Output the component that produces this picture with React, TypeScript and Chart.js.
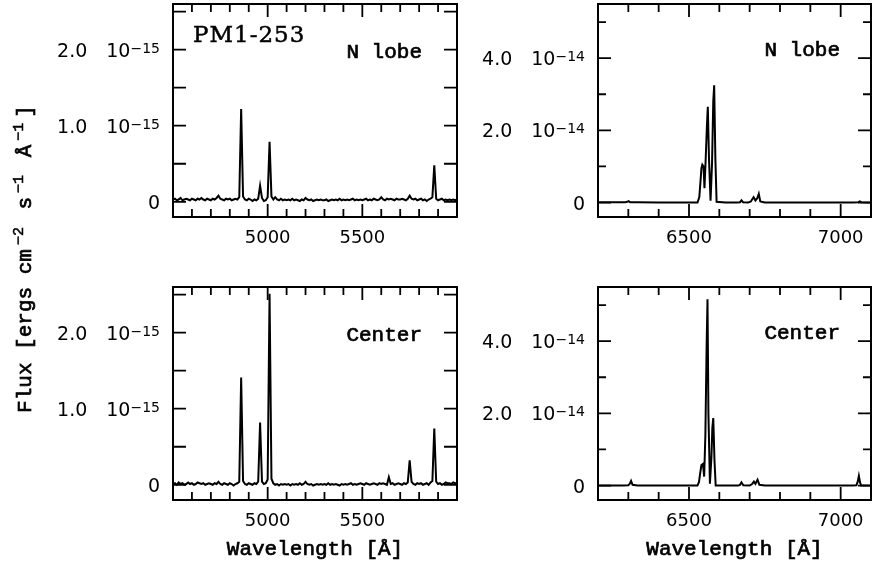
import React, { useEffect, useRef } from "react";
import { Chart, registerables } from "chart.js";

Chart.register(...registerables);

const W = 882;
const H = 565;

// ---------------- data ----------------
// Blue range: one flux value every 10 Å starting at 4500 Å, flux in units of 1e-15 erg cm-2 s-1 Å-1
const blueStart = 4500;
const blueStep = 10;
const blueNLobe = [
  0.03, 0.04, 0.02, 0.03, 0.05, 0.02, 0.03, 0.04, 0.03, 0.02,
  0.04, 0.03, 0.02, 0.04, 0.03, 0.05, 0.03, 0.02, 0.04, 0.03,
  0.02, 0.04, 0.03, 0.05, 0.08, 0.04, 0.03, 0.02, 0.04, 0.03,
  0.04, 0.02, 0.03, 0.04, 0.03, 0.06, 1.22, 0.07, 0.03, 0.02,
  0.04, 0.03, 0.01, 0.03, 0.02, 0.04, 0.21, 0.05, 0.01, 0.02,
  0.06, 0.79, 0.07, 0.03, 0.06, 0.03, 0.02, 0.04, 0.02, 0.03,
  0.02, 0.03, 0.02, 0.04, 0.02, 0.03, 0.02, 0.01, 0.03, 0.02,
  0.05, 0.03, 0.02, 0.03, 0.01, 0.02, 0.03, 0.02, 0.03, 0.02,
  0.02, 0.03, 0.01, 0.02, 0.03, 0.02, 0.03, 0.02, 0.04, 0.02,
  0.03, 0.02, 0.03, 0.02, 0.03, 0.04, 0.02, 0.03, 0.02, 0.03,
  0.02, 0.03, 0.04, 0.02, 0.03, 0.02, 0.04, 0.03, 0.02, 0.03,
  0.06, 0.03, 0.02, 0.04, 0.03, 0.04, 0.03, 0.02, 0.04, 0.03,
  0.03, 0.04, 0.03, 0.02, 0.04, 0.08, 0.04, 0.03, 0.04, 0.02,
  0.03, 0.04, 0.02, 0.03, 0.01, 0.03, 0.04, 0.06, 0.48, 0.04,
  0.02, 0.03, 0.04, 0.02, 0.03, 0.02, 0.03, 0.02, 0.03, 0.02,
  0.03,
];
const blueCenter = [
  0.01, 0.02, 0.00, 0.03, 0.01, 0.02, 0.00, 0.01, 0.03, 0.01,
  0.02, 0.00, 0.01, 0.03, 0.02, 0.01, 0.02, 0.00, 0.01, 0.02,
  0.01, 0.00, 0.02, 0.01, 0.04, 0.01, 0.00, 0.02, 0.01, 0.00,
  0.02, 0.01, -0.01, 0.01, 0.02, 0.04, 1.41, 0.05, 0.01, 0.00,
  0.02, 0.01, 0.00, 0.02, 0.01, 0.04, 0.82, 0.04, 0.01, 0.02,
  0.07, 2.51, 0.08, 0.02, 0.00, 0.01, -0.01, 0.01, 0.00, 0.01,
  0.00, 0.01, -0.01, 0.01, 0.00, 0.01, 0.00, 0.02, 0.00, 0.01,
  0.04, 0.01, 0.00, 0.01, -0.01, 0.00, 0.01, 0.00, 0.01, 0.00,
  0.01, 0.00, 0.02, 0.00, 0.01, 0.00, 0.01, 0.00, -0.01, 0.01,
  0.00, 0.01, 0.00, 0.01, 0.02, 0.00, 0.01, 0.00, 0.01, 0.02,
  0.01, 0.00, 0.02, 0.01, 0.00, 0.01, 0.02, 0.01, 0.00, 0.02,
  0.01, 0.02, 0.01, 0.00, 0.10, 0.01, 0.02, 0.00, 0.01, 0.02,
  0.01, 0.00, 0.02, 0.01, 0.03, 0.32, 0.04, 0.01, 0.00, 0.02,
  0.01, 0.02, 0.00, 0.01, 0.02, 0.00, 0.03, 0.05, 0.74, 0.04,
  0.01, 0.02, 0.00, 0.01, 0.03, 0.02, 0.02, 0.01, 0.03, 0.02,
  0.02,
];

// Red range: wavelengths (Å) and flux in units of 1e-14 erg cm-2 s-1 Å-1
const redNLobeWave = [
  6200, 6260, 6290, 6296, 6301, 6306, 6330, 6400, 6480, 6528,
  6534, 6538, 6541, 6544, 6548, 6551, 6555, 6559, 6562, 6566,
  6571, 6576, 6580, 6583, 6587, 6591, 6620, 6660, 6668, 6673,
  6678, 6695, 6704, 6709, 6713, 6719, 6725, 6730, 6735, 6750,
  6850, 6950, 7040, 7058, 7063, 7068, 7100,
];
const redNLobeFlux = [
  0.01, 0.01, 0.01, 0.02, 0.04, 0.01, 0.01, 0.00, 0.00, 0.00,
  0.15, 0.60, 0.95, 1.05, 1.00, 0.40, 1.20, 2.10, 2.65, 1.20,
  0.05, 1.10, 2.80, 3.25, 1.20, 0.02, 0.00, 0.00, 0.01, 0.06,
  0.01, 0.00, 0.03, 0.10, 0.15, 0.06, 0.12, 0.24, 0.03, 0.00,
  0.00, 0.00, 0.00, 0.01, 0.03, 0.01, 0.00,
];
const redCenterWave = [
  6200, 6280, 6300, 6305, 6309, 6314, 6330, 6420, 6500, 6528,
  6533, 6537, 6541, 6546, 6550, 6554, 6558, 6561, 6564, 6569,
  6574, 6577, 6580, 6584, 6588, 6620, 6662, 6668, 6673, 6679,
  6700, 6708, 6714, 6719, 6726, 6732, 6750, 6900, 7040, 7052,
  7056, 7060, 7064, 7068, 7100,
];
const redCenterFlux = [
  0.00, 0.00, 0.01, 0.05, 0.13, 0.02, 0.00, 0.00, 0.00, 0.00,
  0.10, 0.35, 0.57, 0.60, 0.25, 1.40, 3.80, 5.16, 2.00, 0.05,
  0.80, 1.60, 1.87, 0.70, 0.00, 0.00, 0.00, 0.02, 0.09, 0.01,
  0.00, 0.04, 0.11, 0.05, 0.16, 0.02, 0.00, 0.00, 0.00, 0.01,
  0.10, 0.27, 0.08, 0.00, 0.00,
];

// tick labels
const blueXLabels = [5000, 5500];
const redXLabels = [6500, 7000];
const blueYLabels = [0, 1, 2];
const redYLabels = [0, 2, 4];
const blueExponent = "\u221215";
const redExponent = "\u221214";

// texts
const objectName = "PM1-253";
const regionNames = ["N lobe", "Center"];
const xTitle = "Wavelength [\u00C5]";
const yTitleParts: [string, boolean][] = [
  ["Flux [ergs cm", false],
  ["\u22122", true],
  [" s", false],
  ["\u22121", true],
  [" \u00C5", false],
  ["\u22121", true],
  ["]", false],
];

// ---------------- chart building ----------------
type Spec = {
  xs: number[];
  ys: number[];
  xMin: number;
  xMax: number;
  yMin: number;
  yMax: number;
  yStep: number;
  xLabels: number[];
  yLabels: number[];
  exponent: string;
  area: { l: number; r: number; t: number; b: number };
  padLeft: number;
  name: string;
  showObject: boolean;
  showXTitle: boolean;
  showYTitle: boolean;
  yMinorLen: number;
  nameInset: number;
  nameDrop: number;
};

const TICK_FONT = '"DejaVu Sans", Arial, sans-serif';
const MONO_FONT = '"Liberation Mono", "DejaVu Sans Mono", monospace';

// fill text and thicken it slightly with a thin outline
function heavyText(ctx: CanvasRenderingContext2D, txt: string, x: number, y: number, w = 0.7) {
  ctx.fillText(txt, x, y);
  ctx.lineWidth = w;
  ctx.strokeText(txt, x, y);
}

function decorPlugin(s: Spec) {
  return {
    id: "decor",
    afterDraw(chart: any) {
      const { ctx, chartArea: a } = chart;
      const xs = chart.scales.x;
      const ys = chart.scales.y;
      ctx.save();
      ctx.strokeStyle = "#000";
      ctx.fillStyle = "#000";
      // inward ticks on all four sides
      ctx.lineWidth = 1.8;
      ctx.beginPath();
      for (const t of xs.ticks) {
        const px = xs.getPixelForValue(t.value);
        const len = t.value % 500 === 0 ? 13 : 8;
        ctx.moveTo(px, a.bottom);
        ctx.lineTo(px, a.bottom - len);
        ctx.moveTo(px, a.top);
        ctx.lineTo(px, a.top + len);
      }
      for (const t of ys.ticks) {
        const py = ys.getPixelForValue(t.value);
        const len = s.yLabels.includes(t.value) ? 13 : s.yMinorLen;
        ctx.moveTo(a.left, py);
        ctx.lineTo(a.left + len, py);
        ctx.moveTo(a.right, py);
        ctx.lineTo(a.right - len, py);
      }
      ctx.stroke();
      ctx.lineWidth = 2;
      ctx.strokeRect(a.left, a.top, a.right - a.left, a.bottom - a.top);

      // y tick labels "2.0 10^-15"
      ctx.textAlign = "left";
      ctx.textBaseline = "alphabetic";
      const R = a.left - 13;
      for (const t of ys.ticks) {
        if (!s.yLabels.includes(t.value)) continue;
        const py = ys.getPixelForValue(t.value);
        ctx.font = `19px ${TICK_FONT}`;
        if (t.value === 0) {
          const w0 = ctx.measureText("0").width;
          ctx.fillText("0", R - w0, py + 7);
          continue;
        }
        ctx.font = `14px ${TICK_FONT}`;
        const supW = ctx.measureText(s.exponent).width;
        ctx.fillText(s.exponent, R - supW, py + 3);
        ctx.font = `19px ${TICK_FONT}`;
        const tenW = ctx.measureText("10").width;
        ctx.fillText("10", R - supW - tenW, py + 7);
        const mant = t.value.toFixed(1);
        const mW = ctx.measureText(mant).width;
        ctx.fillText(mant, R - supW - tenW - 19 - mW, py + 7);
      }

      // region name
      ctx.font = `21px ${MONO_FONT}`;
      ctx.textAlign = "right";
      heavyText(ctx, s.name, a.right - s.nameInset, a.top + s.nameDrop);

      if (s.showObject) {
        ctx.font = '23px "DejaVu Serif", serif';
        ctx.textAlign = "left";
        (ctx as any).letterSpacing = "1px";
        heavyText(ctx, objectName, a.left + 20, a.top + 38, 0.5);
        (ctx as any).letterSpacing = "0px";
      }

      if (s.showXTitle) {
        ctx.font = `21px ${MONO_FONT}`;
        ctx.textAlign = "center";
        heavyText(ctx, xTitle, (a.left + a.right) / 2, 555);
      }

      if (s.showYTitle) {
        ctx.translate(31, 259);
        ctx.rotate(-Math.PI / 2);
        ctx.textAlign = "left";
        const mainF = `21px ${MONO_FONT}`;
        const supF = `15px ${MONO_FONT}`;
        const widths = yTitleParts.map(([txt, sup]) => {
          ctx.font = sup ? supF : mainF;
          return ctx.measureText(txt).width;
        });
        let total = 0;
        yTitleParts.forEach(([, sup], i) => {
          total += widths[i] + (sup ? 9 : 0);
        });
        let x = -total / 2;
        yTitleParts.forEach(([txt, sup], i) => {
          ctx.font = sup ? supF : mainF;
          if (sup) x += 4;
          heavyText(ctx, txt, x, sup ? -8 : 0, sup ? 0.5 : 0.7);
          x += widths[i] + (sup ? 5 : 0);
        });
      }
      ctx.restore();
    },
  };
}

function buildConfig(s: Spec): any {
  const data = s.xs.map((x, i) => ({ x, y: s.ys[i] }));
  return {
    type: "line",
    data: {
      datasets: [
        {
          data,
          borderColor: "#000",
          borderWidth: 2,
          pointRadius: 0,
          tension: 0,
          fill: false,
        },
      ],
    },
    options: {
      responsive: false,
      animation: false,
      events: [],
      layout: {
        padding: {
          left: s.padLeft,
          right: W - s.area.r,
          top: s.area.t,
          bottom: H - s.area.b - 40,
        },
      },
      plugins: {
        legend: { display: false },
        tooltip: { enabled: false },
        title: { display: false },
      },
      scales: {
        x: {
          type: "linear",
          min: s.xMin,
          max: s.xMax,
          afterFit: (sc: any) => {
            sc.height = 40;
          },
          grid: { display: false, drawTicks: false },
          border: { display: false },
          ticks: {
            stepSize: 100,
            autoSkip: false,
            maxRotation: 0,
            includeBounds: false,
            padding: 11,
            color: "#000",
            font: { family: TICK_FONT, size: 18 },
            callback: (v: number) => (s.xLabels.includes(v) ? String(v) : ""),
          },
        },
        y: {
          type: "linear",
          min: s.yMin,
          max: s.yMax,
          afterFit: (sc: any) => {
            sc.width = s.area.l - s.padLeft;
          },
          grid: { display: false, drawTicks: false },
          border: { display: false },
          ticks: { display: false, stepSize: s.yStep, includeBounds: false },
        },
      },
    },
    plugins: [decorPlugin(s)],
  };
}

const blueWave = blueNLobe.map((_, i) => blueStart + i * blueStep);

const specs: Spec[] = [
  {
    xs: blueWave,
    ys: blueNLobe,
    xMin: 4500, xMax: 6000, yMin: -0.2, yMax: 2.6, yStep: 0.5,
    xLabels: blueXLabels, yLabels: blueYLabels, exponent: blueExponent,
    area: { l: 173, r: 457, t: 4, b: 217 }, padLeft: 0,
    name: regionNames[0], showObject: true, showXTitle: false, showYTitle: true,
    yMinorLen: 13, nameInset: 35, nameDrop: 54,
  },
  {
    xs: redNLobeWave,
    ys: redNLobeFlux,
    xMin: 6200, xMax: 7100, yMin: -0.4, yMax: 5.5, yStep: 1,
    xLabels: redXLabels, yLabels: redYLabels, exponent: redExponent,
    area: { l: 598, r: 881, t: 4, b: 217 }, padLeft: 460,
    name: regionNames[0], showObject: false, showXTitle: false, showYTitle: false,
    yMinorLen: 8, nameInset: 31, nameDrop: 52,
  },
  {
    xs: blueWave,
    ys: blueCenter,
    xMin: 4500, xMax: 6000, yMin: -0.2, yMax: 2.6, yStep: 0.5,
    xLabels: blueXLabels, yLabels: blueYLabels, exponent: blueExponent,
    area: { l: 173, r: 457, t: 287, b: 500 }, padLeft: 0,
    name: regionNames[1], showObject: false, showXTitle: true, showYTitle: false,
    yMinorLen: 13, nameInset: 35, nameDrop: 54,
  },
  {
    xs: redCenterWave,
    ys: redCenterFlux,
    xMin: 6200, xMax: 7100, yMin: -0.4, yMax: 5.5, yStep: 1,
    xLabels: redXLabels, yLabels: redYLabels, exponent: redExponent,
    area: { l: 598, r: 881, t: 287, b: 500 }, padLeft: 460,
    name: regionNames[1], showObject: false, showXTitle: true, showYTitle: false,
    yMinorLen: 8, nameInset: 31, nameDrop: 52,
  },
];

function Panel({ spec }: { spec: Spec }) {
  const ref = useRef<HTMLCanvasElement>(null);
  useEffect(() => {
    const chart = new Chart(ref.current as HTMLCanvasElement, buildConfig(spec));
    return () => chart.destroy();
  }, [spec]);
  return (
    <canvas
      ref={ref}
      width={W}
      height={H}
      style={{ position: "absolute", left: 0, top: 0, width: W, height: H }}
    />
  );
}

export default function App() {
  return (
    <div
      style={{
        position: "fixed",
        left: 0,
        top: 0,
        width: W,
        height: H,
        background: "#fff",
        overflow: "hidden",
      }}
    >
      {specs.map((s, i) => (
        <Panel key={i} spec={s} />
      ))}
    </div>
  );
}
